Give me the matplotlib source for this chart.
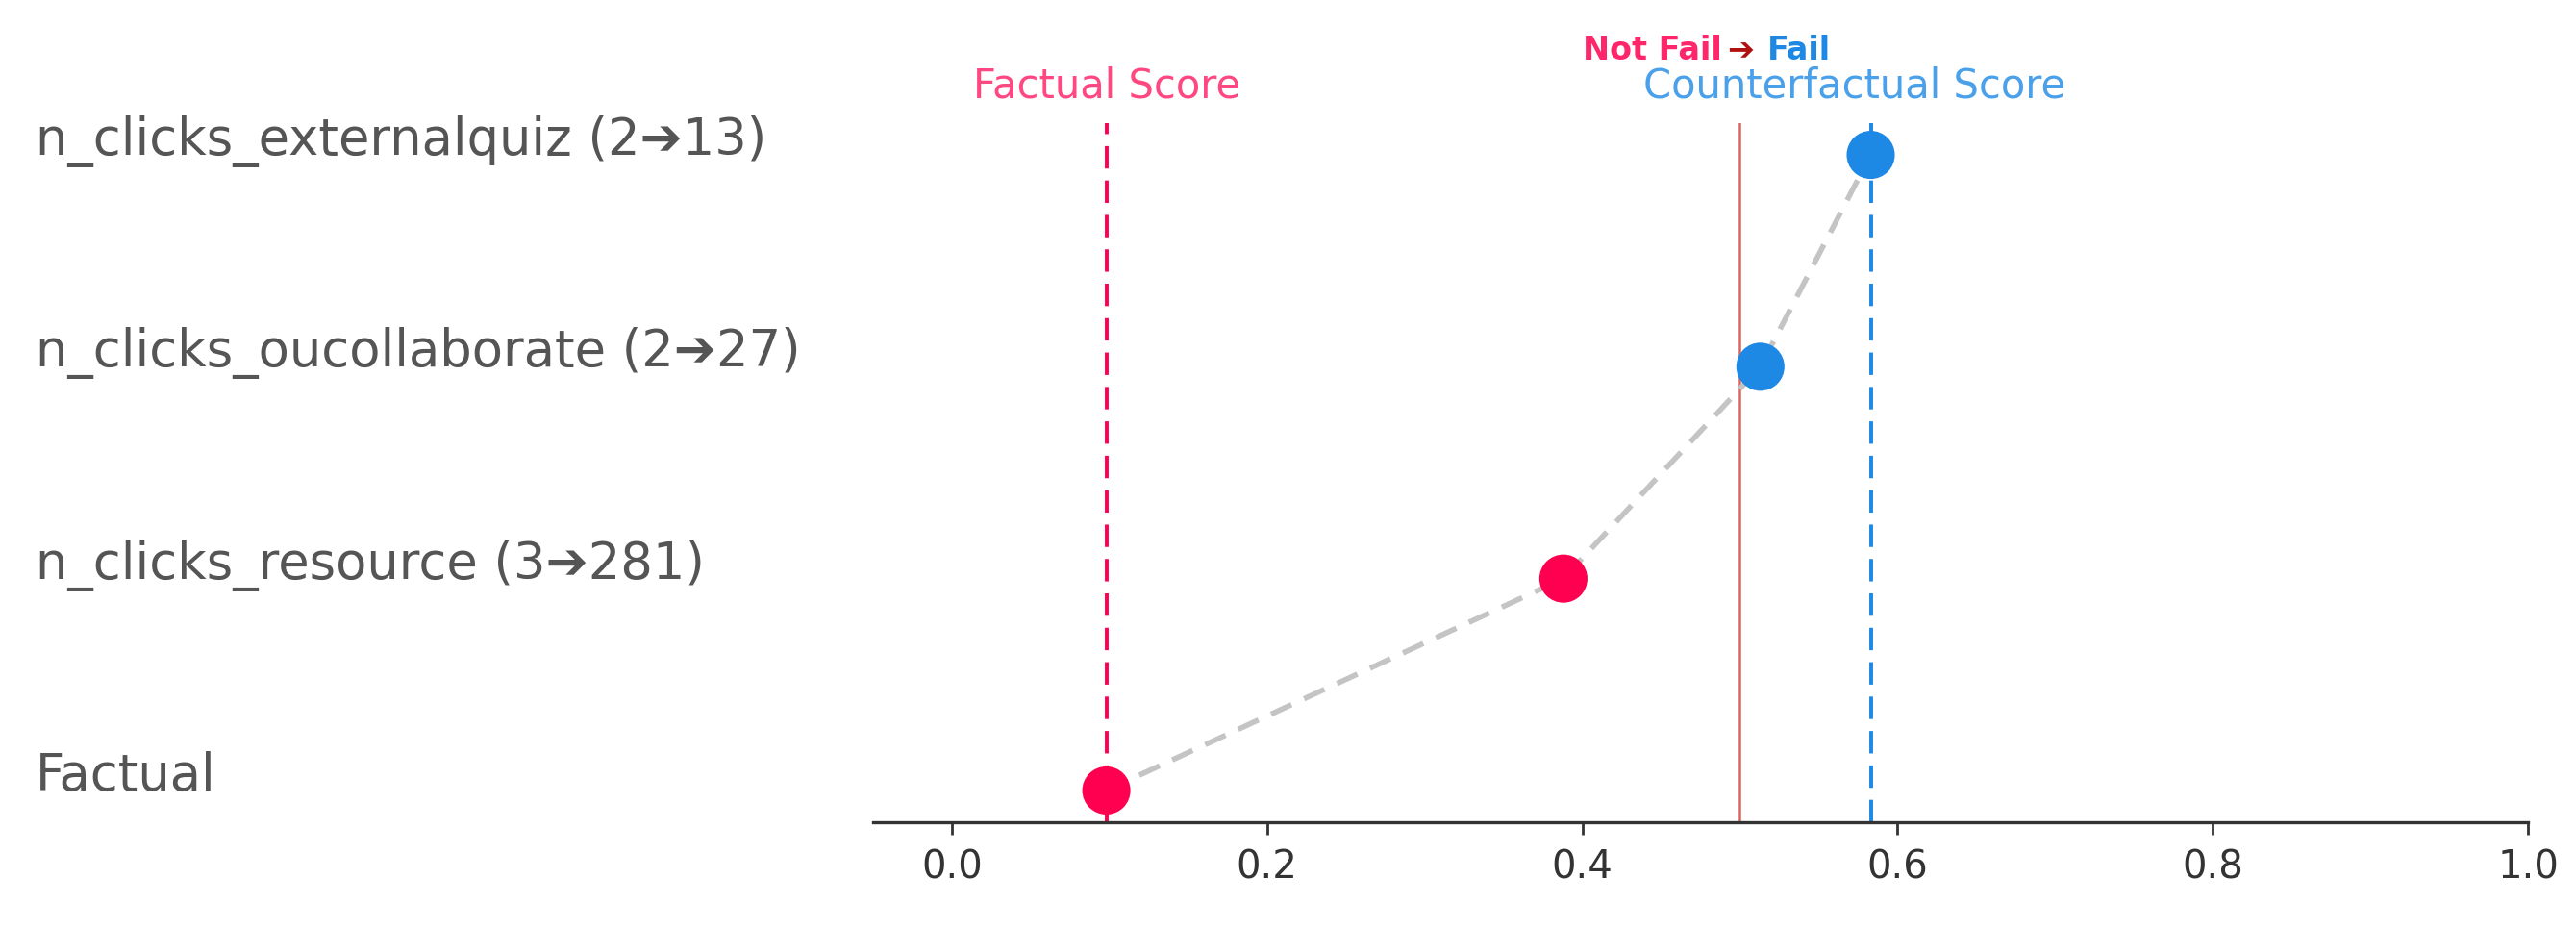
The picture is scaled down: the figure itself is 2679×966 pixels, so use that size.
import matplotlib
matplotlib.use("Agg")
import matplotlib.pyplot as plt
from matplotlib.transforms import blended_transform_factory

# ---- data ----
features = [
    "Factual",
    "n_clicks_resource (3➔281)",
    "n_clicks_oucollaborate (2➔27)",
    "n_clicks_externalquiz (2➔13)",
]
scores = [0.098, 0.388, 0.513, 0.583]
threshold = 0.5
xticks = [0.0, 0.2, 0.4, 0.6, 0.8, 1.0]
xtick_labels = ["0.0", "0.2", "0.4", "0.6", "0.8", "1.0"]
factual_label = "Factual Score"
cf_label = "Counterfactual Score"
class_from, class_to = "Not Fail", "Fail"

PINK = "#FF0051"
BLUE = "#1E88E5"

factual_score = scores[0]
cf_score = scores[-1]
ys = list(range(len(features)))

W, H = 2679, 966
fig = plt.figure(figsize=(W / 100, H / 100), dpi=100)
ax = fig.add_axes([908 / W, 1 - 855 / H, (2629 - 908) / W, (855 - 128) / H])

# connecting path
ax.plot(scores, ys, color="#c4c4c4", lw=4.0, ls="--", dashes=(4.2, 2.6), zorder=1)
# threshold and score lines
ax.axvline(threshold, color="#d9534f", lw=1.8, zorder=0, alpha=0.9)
ax.axvline(factual_score, color=PINK, lw=2.8, ls="--", dashes=(6.0, 3.2), zorder=2)
ax.axvline(cf_score, color=BLUE, lw=2.8, ls="--", dashes=(6.0, 3.2), zorder=2)

colors = [PINK if s < threshold else BLUE for s in scores]
ax.scatter(scores, ys, s=1300, c=colors, zorder=3, linewidths=0)

ax.set_xlim(-0.05, 1.0)
ax.set_ylim(-0.15, 3.15)

for side in ["top", "right", "left"]:
    ax.spines[side].set_visible(False)
ax.spines["bottom"].set_linewidth(2.4)
ax.spines["bottom"].set_color("#333333")

ax.set_xticks(xticks, xtick_labels)
ax.tick_params(axis="x", length=9, width=2.0, pad=11, labelsize=29,
               colors="#333333")
ax.set_yticks(ys, features)
ax.tick_params(axis="y", length=0, pad=627, labelsize=38, labelcolor="#555555")
for lab in ax.get_yticklabels():
    lab.set_horizontalalignment("left")
    lab.set_verticalalignment("baseline")

tr = blended_transform_factory(ax.transData, ax.transAxes)
ax.text(factual_score, 1.036, factual_label, transform=tr, ha="center",
        va="baseline", fontsize=30, color=PINK, alpha=0.72)
ax.annotate(cf_label, xy=(cf_score, 1.036), xycoords=tr, xytext=(-12, 0),
            textcoords="offset points", ha="center", va="baseline",
            fontsize=30, color=BLUE, alpha=0.8)

t1 = ax.text(0.40, 1.091, class_from, transform=tr, ha="left", va="baseline",
             fontsize=24, fontweight="bold", color=PINK, alpha=0.85)
t2 = ax.annotate("➔", xy=(1, 0), xycoords=t1, xytext=(4, 0),
                 textcoords="offset points", ha="left", va="bottom",
                 fontsize=24, fontweight="bold", color="#b01010")
t3 = ax.annotate(class_to, xy=(1, 0), xycoords=t2, xytext=(10, 0),
                 textcoords="offset points", ha="left", va="bottom",
                 fontsize=24, fontweight="bold", color=BLUE)

fig.savefig("out.png", dpi=100, facecolor="white")
